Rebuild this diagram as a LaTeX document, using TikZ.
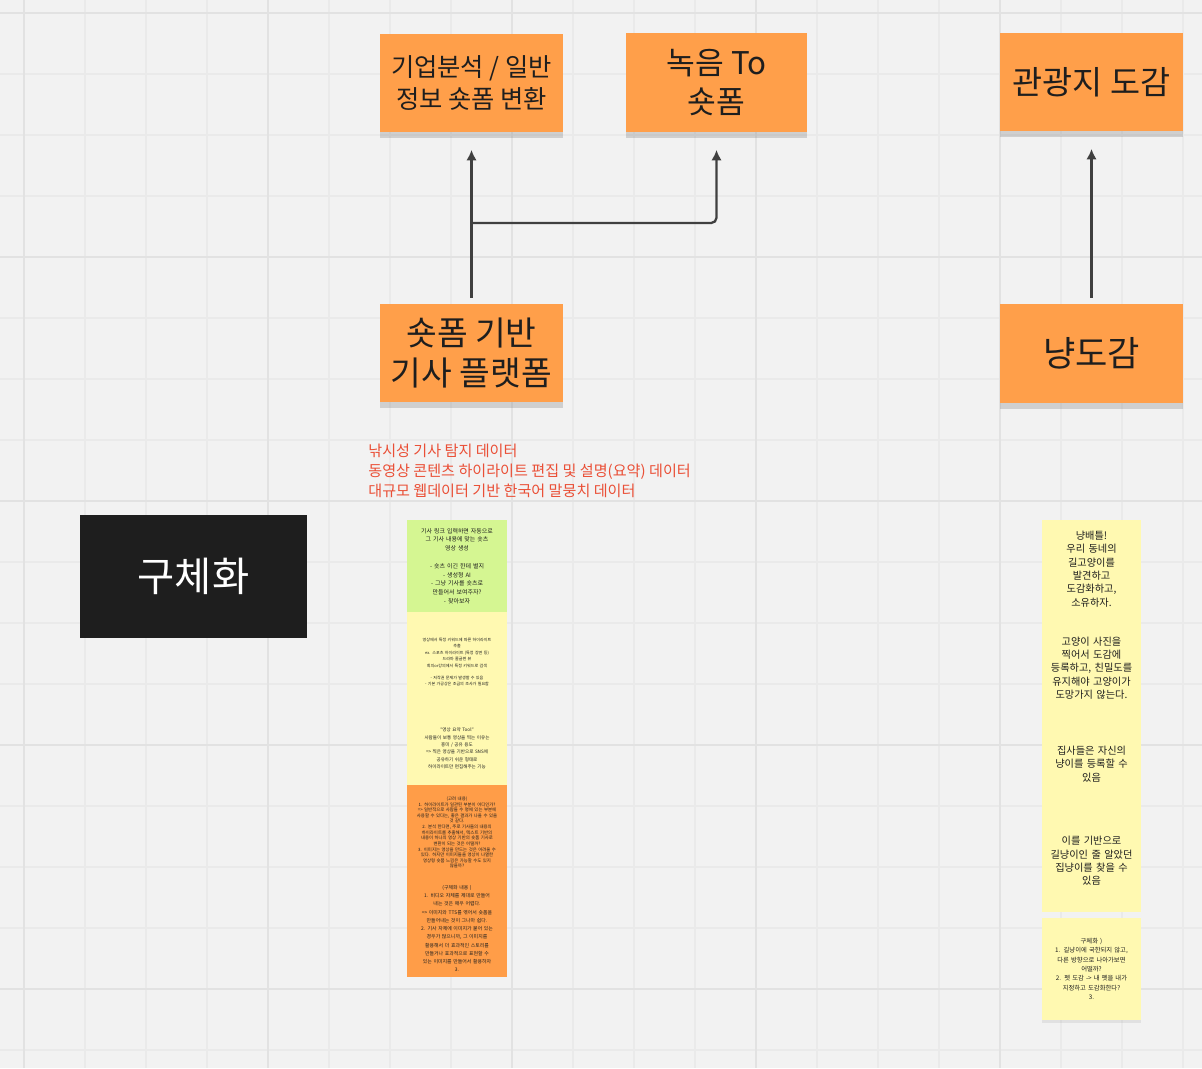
\documentclass[tikz,border=0pt]{standalone}
\usepackage{fontspec}
\setmainfont{Noto Sans CJK KR}
\usetikzlibrary{arrows.meta,shadows}
\definecolor{board}{HTML}{F2F2F2}
\definecolor{gridminor}{HTML}{EAEAEA}
\definecolor{gridmajor}{HTML}{E2E2E2}
\definecolor{cardorange}{HTML}{FF9F4A}
\definecolor{memoyellow}{HTML}{FFF9B1}
\definecolor{memogreen}{HTML}{D5F692}
\definecolor{memoorange}{HTML}{FF9D48}
\definecolor{ink}{HTML}{1E1E1E}
\definecolor{datared}{HTML}{EA4F36}
\tikzset{
  card/.style={fill=cardorange, minimum width=3.66cm, minimum height=1.96cm, align=center, text=ink,
    drop shadow={shadow xshift=0pt, shadow yshift=-3.5pt, opacity=.3}},
  memo/.style={minimum width=2cm, text width=1.8cm, inner sep=0pt, align=center, text=ink},
  link/.style={draw=ink!85, line width=1.3pt, -{Latex[length=6pt,width=6pt]}}
}
\begin{document}
\begin{tikzpicture}[x=0.02cm,y=-0.02cm]
\fill[board] (0,0) rectangle (1202,1068);
\useasboundingbox (0,0) rectangle (1202,1068);
% board grid
\foreach \i in {0,...,19}
\draw[gridminor, line width=.7pt] (24+61*\i,0) -- (24+61*\i,1068);
\foreach \j in {0,...,17}
\draw[gridminor, line width=.7pt] (0,13+61*\j) -- (1202,13+61*\j);
\foreach \i in {0,...,4}
\draw[gridmajor, line width=1.2pt] (24+244*\i,0) -- (24+244*\i,1068);
\foreach \j in {0,...,4}
\draw[gridmajor, line width=1.2pt] (0,13+244*\j) -- (1202,13+244*\j);

\node[card, font=\fontsize{14.4}{18}\selectfont] (corp) at (471.5,83) {기업분석 / 일반\\정보 숏폼 변환};
\node[card, minimum width=3.62cm, minimum height=1.98cm, font=\fontsize{17.8}{22}\selectfont] (record) at (716.5,82.5) {녹음 To\\숏폼};
\node[card, font=\fontsize{18.6}{22}\selectfont] (tour) at (1091.5,82) {관광지 도감};
\node[card, font=\fontsize{19}{23}\selectfont] (plat) at (471.5,353) {숏폼 기반\\기사 플랫폼};
\node[card, minimum height=1.98cm, font=\fontsize{20}{22}\selectfont] (nyang) at (1091.5,353.5) {냥도감};
\node[fill=ink, text=white, minimum width=4.54cm, minimum height=2.46cm, font=\fontsize{23}{26}\selectfont] (detail) at (193.5,576.5) {구체화};

\coordinate (fork) at (471.5,223);
\draw[link, shorten <=3.4pt, shorten >=10pt] (plat.north) -- (corp.south);
\draw[link, rounded corners=3pt, shorten >=10pt] (fork) -| (record.south);
\draw[link, shorten <=3.4pt, shorten >=10pt] (nyang.north) -- (tour.south);

\node[anchor=north west, align=left, text=datared, inner sep=0pt, font=\fontsize{8.6}{11.3}\selectfont] (data) at (368,444)
{낚시성 기사 탐지 데이터\\동영상 콘텐츠 하이라이트 편집 및 설명(요약) 데이터\\대규모 웹데이터 기반 한국어 말뭉치 데이터};

% left memo column
\node[memo, fill=memogreen, minimum height=1.84cm, font=\fontsize{3.4}{5}\selectfont] (m1) at (457,566)
{기사 링크 입력하면 자동으로\\그 기사 내용에 맞는 숏츠\\영상 생성\\[5pt]- 숏츠 이긴 한데 별지\\- 생성형 AI\\- 그냥 기사를 숏츠로\\만들어서 보여주자?\\- 찾아보자};
\node[memo, fill=memoyellow, minimum height=2cm, font=\fontsize{2.3}{3.7}\selectfont] (m2) at (457,662)
{영상에서 특정 키워드에 따른 하이라이트\\추출\\ex. 스포츠 하이라이트 (특정 장면 등)\\드라마 줄글편 뷰\\회의or강의에서 특정 키워드로 검색\\[3pt]- 저작권 문제가 발생할 수 있음\\- 기본 가공상은 조금의 조사가 필요함};
\node[memo, fill=memoyellow, minimum height=1.46cm, font=\fontsize{2.6}{4.2}\selectfont] (m3) at (457,748.5)
{"영상 요약 Tool"\\사람들이 보통 영상을 찍는 이유는\\흥미 / 공유 용도\\=> 찍은 영상을 기반으로 SNS에\\공유하기 쉬운 형태로\\하이라이트만 편집해주는 기능};
\node[memo, fill=memoorange, minimum height=1.9cm, font=\fontsize{2.5}{3.2}\selectfont] (m4) at (457,832.5)
{(고려 내용)\\1. 하이라이트가 일관된 부분이 어디인가?\\=> 일반적으로 사람들 수 명에 있는 부분에\\사용할 수 있다는, 좋은 결과가 나올 수 있을\\것 같다.\\2. 분석 한다면, 주로 기사들의 내용의\\하이라이트를 추출해서, 텍스트 기반의\\내용이 하나의 영상 기반의 숏폼 기사로\\변환이 되는 것은 어떨까?\\3. 이미지는 영상을 만드는 것은 어려울 수\\있다. 하지만 이미지들을 영상이 나열한\\영상형 숏폼 느낌은 가능할 수도 있지\\않을까?};
\node[memo, fill=memoorange, minimum height=1.94cm, font=\fontsize{2.8}{4.7}\selectfont] (m5) at (457,928.5)
{(구체화 내용 )\\1. 비디오 자체를 제대로 만들어\\내는 것은 매우 어렵다.\\=> 이미지와 TTS를 엮어서 숏폼을\\만들어내는 것이 그나마 쉽다.\\2. 기사 자체에 이미지가 붙어 있는\\경우가 많으니까, 그 이미지를\\활용해서 더 효과적인 스토리를\\만들거나 효과적으로 표현할 수\\있는 이미지를 만들어서 활용하자\\3.};

% right memo column
\node[memo, fill=memoyellow, minimum width=1.98cm, minimum height=1.96cm, font=\fontsize{5.8}{7.6}\selectfont] (n1) at (1091.5,569)
{냥배틀!\\우리 동네의\\길고양이를\\발견하고\\도감화하고,\\소유하자.};
\node[memo, fill=memoyellow, minimum width=1.98cm, minimum height=2cm, font=\fontsize{5.8}{7.6}\selectfont] (n2) at (1091.5,668)
{고양이 사진을\\찍어서 도감에\\등록하고, 친밀도를\\유지해야 고양이가\\도망가지 않는다.};
\node[memo, fill=memoyellow, minimum width=1.98cm, minimum height=1.84cm, font=\fontsize{5.8}{7.6}\selectfont] (n3) at (1091.5,764)
{집사들은 자신의\\냥이를 등록할 수\\있음};
\node[memo, fill=memoyellow, minimum width=1.98cm, minimum height=2.04cm, font=\fontsize{5.8}{7.6}\selectfont] (n4) at (1091.5,861)
{이를 기반으로\\길냥이인 줄 알았던\\집냥이를 찾을 수\\있음};
\node[memo, fill=memoyellow, minimum width=1.98cm, minimum height=2.04cm, font=\fontsize{3.6}{5.3}\selectfont,
  drop shadow={shadow xshift=0pt, shadow yshift=-1.5pt, opacity=.15}] (n5) at (1091.5,969)
{구체화 )\\1. 길냥이에 국한되지 않고,\\다른 방향으로 나아가보면\\어떨까?\\2. 펫 도감 -> 내 펫을 내가\\지정하고 도감화한다?\\3.};
\end{tikzpicture}
\end{document}
